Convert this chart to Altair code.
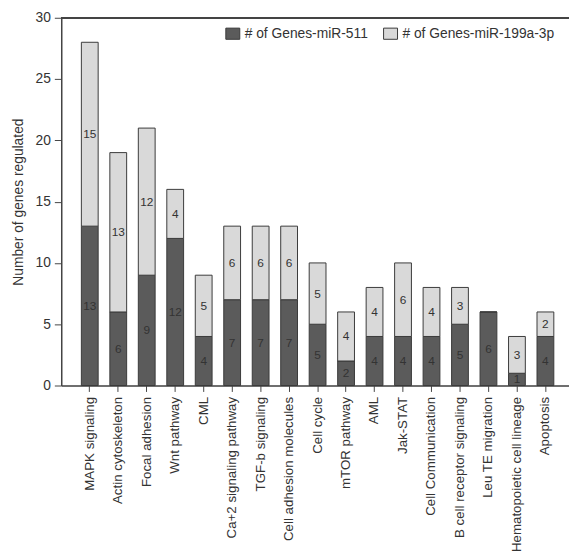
import altair as alt
import pandas as pd

categories = ["MAPK signaling", "Actin cytoskeleton", "Focal adhesion", "Wnt pathway", "CML",
              "Ca+2 signaling pathway", "TGF-b signaling", "Cell adhesion molecules", "Cell cycle",
              "mTOR pathway", "AML", "Jak-STAT", "Cell Communication", "B cell receptor signaling",
              "Leu TE migration", "Hematopoietic cell lineage", "Apoptosis"]
mir511 = [13, 6, 9, 12, 4, 7, 7, 7, 5, 2, 4, 4, 4, 5, 6, 1, 4]
mir199 = [15, 13, 12, 4, 5, 6, 6, 6, 5, 4, 4, 6, 4, 3, 0, 3, 2]
series = ["# of Genes-miR-511", "# of Genes-miR-199a-3p"]

rows = []
for c, a, b in zip(categories, mir511, mir199):
    rows.append({"category": c, "series": series[0], "value": a, "order": 0})
    rows.append({"category": c, "series": series[1], "value": b, "order": 1})
df = pd.DataFrame(rows)

FONT = "Liberation Sans"

xenc = alt.X("category:N", sort=categories, title=None,
             scale=alt.Scale(paddingInner=0.41, paddingOuter=0.62, align=0.57),
             axis=alt.Axis(labelAngle=-90, labelFontSize=13.5, labelColor="#333",
                           tickSize=6, tickColor="#444", domainColor="#444", domainWidth=1.5,
                           labelPadding=5, labelFont=FONT, labelLimit=300))
yscale = alt.Scale(domain=[0, 30], nice=False)

base = alt.Chart(df).transform_stack(
    stack="value", as_=["y0", "y1"], groupby=["category"], sort=[{"field": "order"}]
).transform_calculate(mid="(datum.y0 + datum.y1) / 2")

bars = base.mark_bar(stroke="#3a3a3a", strokeWidth=1).encode(
    x=xenc,
    y=alt.Y("y0:Q", scale=yscale, title="Number of genes regulated",
            axis=alt.Axis(values=[0, 5, 10, 15, 20, 25, 30], grid=False, labelFontSize=14,
                          labelColor="#333", titleFontSize=14, titleColor="#333",
                          titleFontWeight="normal", tickSize=7, tickColor="#444",
                          domainColor="#444", domainWidth=1.5, labelPadding=4, titlePadding=10,
                          labelFont=FONT, titleFont=FONT)),
    y2="y1:Q",
    color=alt.Color("series:N", scale=alt.Scale(domain=series, range=["#5b5b5b", "#d9d9d9"]),
                    sort=series, title=None,
                    legend=alt.Legend(orient="none", legendX=166, legendY=8, direction="horizontal",
                                      symbolType="M-1,-0.8H1V0.8H-1Z", symbolSize=200,
                                      symbolStrokeColor="#3a3a3a", symbolStrokeWidth=1,
                                      symbolOpacity=1, labelFontSize=14, labelColor="#333",
                                      labelFont=FONT, columnPadding=12, labelOffset=4,
                                      labelLimit=300)),
)

labels = base.transform_filter("datum.value > 0").mark_text(
    fontSize=12, font=FONT, color="#333333"
).encode(
    x=alt.X("category:N", sort=categories),
    y=alt.Y("mid:Q", scale=yscale),
    text="value:Q",
)

top = alt.Chart(df).mark_rule(color="#444", strokeWidth=1.5).encode(y=alt.datum(30))

chart = alt.layer(bars, labels, top).properties(
    width=515, height=373,
    autosize=alt.AutoSizeParams(type="none"),
    padding={"left": 54, "top": 6, "right": 0, "bottom": 168},
).configure_view(stroke=None).configure(background="white")

chart.save("out.html", embed_options={"renderer": "svg", "actions": False})
